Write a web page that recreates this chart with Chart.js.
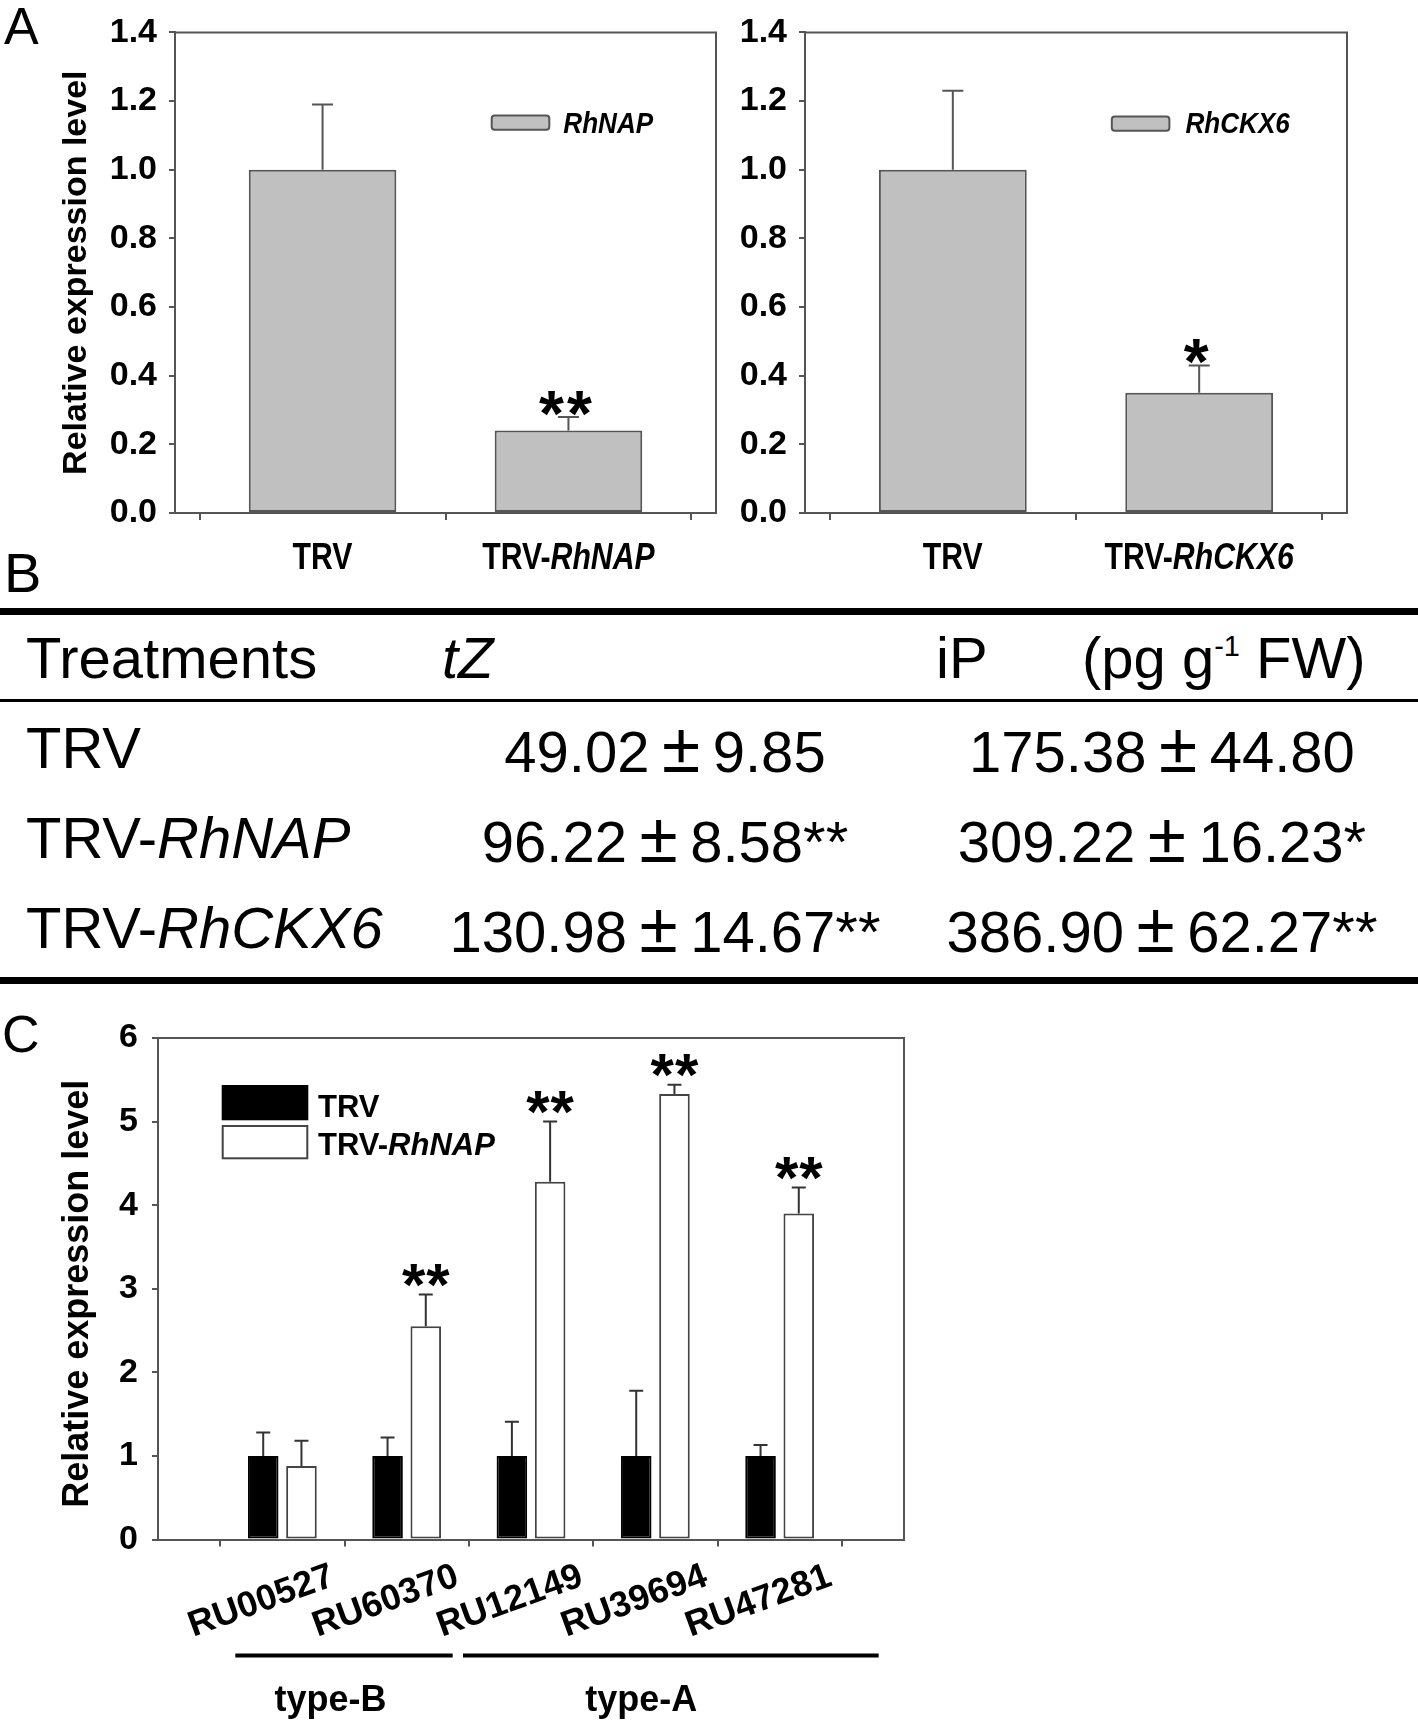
<!DOCTYPE html>
<html>
<head>
<meta charset="utf-8">
<script src="https://cdn.jsdelivr.net/npm/chart.js@4.4.1/dist/chart.umd.min.js"></script>
<style>
html, body { margin: 0; padding: 0; background: #fff; }
#page { position: relative; width: 1418px; height: 1722px; overflow: hidden; background: #fff;
        font-family: "Liberation Sans", Arial, Helvetica, sans-serif; color: #000; }
canvas { position: absolute; }
.t { position: absolute; font-size: 58px; line-height: 58px; white-space: nowrap; }
.letter { position: absolute; white-space: nowrap; }
.rule { position: absolute; left: 0; width: 1418px; background: #000; }
.pm { font-size: 1.2em; margin: 0 0.18em; }
sup { font-size: 0.5em; vertical-align: 0.75em; line-height: 0; }
</style>
</head>
<body>
<div id="page">
  <canvas id="chartA1"></canvas>
  <canvas id="chartA2"></canvas>
  <canvas id="chartC"></canvas>
</div>
<script>
// ---------------- DATA ----------------
// Panel A (left): RhNAP silencing
const aCategories = ['TRV', 'TRV-RhNAP'];
const aValues = [1.00, 0.24];
const aErrors = [0.19, 0.04];
const aStars = ['', '**'];
const aLegend = 'RhNAP';
// Panel A (right): RhCKX6 silencing
const a2Categories = ['TRV', 'TRV-RhCKX6'];
const a2Values = [1.00, 0.35];
const a2Errors = [0.23, 0.08];
const a2Stars = ['', '*'];
const a2Legend = 'RhCKX6';
const aYTicks = [0, 0.2, 0.4, 0.6, 0.8, 1.0, 1.2, 1.4];
const yTitle = 'Relative expression level';

// Panel B table
const panelLetters = ['A', 'B', 'C'];
const tableHead = ['Treatments', 'tZ', 'iP'];
const tableUnit = ['(pg g', '-1', ' FW)'];
const treatments = ['TRV', 'TRV-RhNAP', 'TRV-RhCKX6'];
const tzMean = [49.02, 96.22, 130.98];
const tzSD = [9.85, 8.58, 14.67];
const tzSig = ['', '**', '**'];
const ipMean = [175.38, 309.22, 386.90];
const ipSD = [44.80, 16.23, 62.27];
const ipSig = ['', '*', '**'];

// Panel C
const cCategories = ['RU00527', 'RU60370', 'RU12149', 'RU39694', 'RU47281'];
const cSeries = ['TRV', 'TRV-RhNAP'];
const cTRV = [1.00, 1.00, 1.00, 1.00, 1.00];
const cTRVErr = [0.28, 0.22, 0.41, 0.78, 0.13];
const cNAP = [0.88, 2.55, 4.28, 5.33, 3.90];
const cNAPErr = [0.30, 0.38, 0.72, 0.11, 0.31];
const cTRVStars = ['', '', '', '', ''];
const cNAPStars = ['', '**', '**', '**', '**'];
const cYTicks = [0, 1, 2, 3, 4, 5, 6];
const cGroupNames = ['type-B', 'type-A'];
const cGroupFirst = [0, 2];
const cGroupLast = [1, 4];

// ---------------- STYLE / LAYOUT ----------------
const FONT = '"Liberation Sans", Arial, Helvetica, sans-serif';
Chart.defaults.font.family = FONT;
Chart.defaults.color = '#000';

const STYLE = {
  chartA1: {
    axisColor: '#555', axisWidth: 2, errColor: '#555', errWidth: 2, capHalf: 10.5,
    starSize: 64, starGap: 17, starDx: -3, starSpacing: 3,
    xLabel: { size: 36, sx: 0.84, dy: 56 },
    legend: { dx: 316.7, dy: 83, w: 57.6, h: 14.3, r: 3, gap: 14, size: 30, sx: 0.87, textDy: 17.5 },
    title: { x: 86, size: 34, dy: 0 }
  },
  chartA2: {
    axisColor: '#555', axisWidth: 2, errColor: '#555', errWidth: 2, capHalf: 10.5,
    starSize: 64, starGap: 17, starDx: -3, starSpacing: 3,
    xLabel: { size: 36, sx: 0.84, dy: 56 },
    legend: { dx: 306.8, dy: 84, w: 57.6, h: 14.3, r: 3, gap: 16, size: 30, sx: 0.87, textDy: 17 }
  },
  chartC: {
    axisColor: '#555', axisWidth: 2, errColor: '#333', errWidth: 2, capHalf: 7,
    starSize: 60, starGap: 23, starDx: 0, starSpacing: 1,
    rotLabel: { size: 36, angle: 20, dx: -21, dy: 62 },
    legendC: { dx: 64.7, dy: [48, 88], w: 84.6, h: [33.3, 32.3], textDx: 160, textDy: [79, 117], size: 31 },
    groups: { lineDy: 116, lineW: 4, pads: [[47, 46], [68, 99]], textDy: 171, textDx: -14, size: 36 },
    title: { x: 88, size: 36, dy: 5 }
  }
};

function padFor(rect, area, yW, xH) {
  return { left: area.l - rect.x - yW, top: area.t - rect.y,
           right: rect.x + rect.w - area.r, bottom: rect.y + rect.h - area.b - xH };
}
function placeCanvas(id, rect) {
  const c = document.getElementById(id);
  c.width = rect.w; c.height = rect.h;
  c.style.left = rect.x + 'px'; c.style.top = rect.y + 'px';
  c.style.width = rect.w + 'px'; c.style.height = rect.h + 'px';
  return c;
}
function richParts(label, allItalic) {
  if (allItalic) return [{ t: label, i: true }];
  const k = label.indexOf('-');
  if (k < 0) return [{ t: label, i: false }];
  return [{ t: label.slice(0, k + 1), i: false }, { t: label.slice(k + 1), i: true }];
}
function drawRich(ctx, parts, x, y, size, sx, align) {
  ctx.save();
  ctx.translate(x, y); ctx.scale(sx, 1);
  const fonts = parts.map(p => (p.i ? 'italic ' : '') + 'bold ' + size + 'px ' + FONT);
  const ws = parts.map((p, k) => { ctx.font = fonts[k]; return ctx.measureText(p.t).width; });
  const total = ws.reduce((a, b) => a + b, 0);
  let cx = align === 'center' ? -total / 2 : 0;
  ctx.textAlign = 'left'; ctx.textBaseline = 'alphabetic'; ctx.fillStyle = '#000';
  parts.forEach((p, k) => { ctx.font = fonts[k]; ctx.fillText(p.t, cx, 0); cx += ws[k]; });
  ctx.restore();
}
function drawStars(ctx, s, cx, baseY, size, spacing) {
  // each star drawn separately so the gap between them can be set
  ctx.font = 'bold ' + size + 'px ' + FONT;
  ctx.textAlign = 'center'; ctx.textBaseline = 'alphabetic'; ctx.fillStyle = '#000';
  const w = ctx.measureText('*').width + spacing;
  const n = s.length;
  for (let k = 0; k < n; k++) {
    ctx.fillText('*', cx + (k - (n - 1) / 2) * w, baseY);
  }
}

const decorPlugin = {
  id: 'decor',
  afterDatasetsDraw(chart) {
    const st = STYLE[chart.canvas.id]; if (!st) return;
    const ctx = chart.ctx, ca = chart.chartArea, ys = chart.scales.y;
    ctx.save();
    ctx.strokeStyle = st.axisColor; ctx.lineWidth = st.axisWidth;
    ctx.beginPath();
    ctx.moveTo(ca.left - 1, ca.top); ctx.lineTo(ca.right, ca.top); ctx.lineTo(ca.right, ca.bottom + 1);
    ctx.stroke();
    chart.data.datasets.forEach((ds, di) => {
      const meta = chart.getDatasetMeta(di);
      meta.data.forEach((bar, i) => {
        const v = ds.data[i].y, e = ds.errors[i];
        const x = bar.x, yBar = ys.getPixelForValue(v), yTop = ys.getPixelForValue(v + e);
        ctx.strokeStyle = st.errColor; ctx.lineWidth = st.errWidth;
        ctx.beginPath();
        ctx.moveTo(x, yBar); ctx.lineTo(x, yTop);
        ctx.moveTo(x - st.capHalf, yTop); ctx.lineTo(x + st.capHalf, yTop);
        ctx.stroke();
        const s = ds.stars[i];
        if (s) drawStars(ctx, s, x + st.starDx, yTop - st.starGap + st.starSize * 0.56, st.starSize, st.starSpacing);
      });
    });
    ctx.restore();
  },
  afterDraw(chart) {
    const st = STYLE[chart.canvas.id]; if (!st) return;
    const ctx = chart.ctx, ca = chart.chartArea, xs = chart.scales.x;
    const cats = chart.data.labels;
    ctx.save();
    if (st.xLabel) {
      cats.forEach((c, i) => drawRich(ctx, richParts(c, false), xs.getPixelForValue(i),
        ca.bottom + st.xLabel.dy, st.xLabel.size, st.xLabel.sx, 'center'));
    }
    if (st.rotLabel) {
      const R = st.rotLabel;
      cats.forEach((c, i) => {
        ctx.save();
        ctx.translate(xs.getPixelForValue(i) + R.dx, ca.bottom + R.dy);
        ctx.rotate(-R.angle * Math.PI / 180);
        ctx.font = 'bold ' + R.size + 'px ' + FONT;
        ctx.fillStyle = '#000'; ctx.textAlign = 'center'; ctx.textBaseline = 'middle';
        ctx.fillText(c, 0, 0);
        ctx.restore();
      });
    }
    if (st.legend) {
      const ds = chart.data.datasets[0], L = st.legend;
      const bx = ca.left + L.dx, by = ca.top + L.dy;
      ctx.beginPath(); ctx.roundRect(bx, by, L.w, L.h, L.r);
      ctx.fillStyle = ds.backgroundColor; ctx.fill();
      ctx.lineWidth = 2; ctx.strokeStyle = ds.borderColor; ctx.stroke();
      drawRich(ctx, richParts(ds.label, true), bx + L.w + L.gap, by + L.textDy, L.size, L.sx, 'left');
    }
    if (st.legendC) {
      const L = st.legendC;
      chart.data.datasets.forEach((ds, k) => {
        const bx = ca.left + L.dx, by = ca.top + L.dy[k];
        ctx.fillStyle = ds.backgroundColor; ctx.fillRect(bx, by, L.w, L.h[k]);
        ctx.lineWidth = 2; ctx.strokeStyle = ds.borderColor; ctx.strokeRect(bx, by, L.w, L.h[k]);
        drawRich(ctx, richParts(ds.label, false), ca.left + L.textDx, ca.top + L.textDy[k], L.size, 1, 'left');
      });
    }
    if (st.groups) {
      const G = st.groups;
      cGroupNames.forEach((g, k) => {
        const x0 = xs.getPixelForValue(cGroupFirst[k]), x1 = xs.getPixelForValue(cGroupLast[k]);
        ctx.strokeStyle = '#000'; ctx.lineWidth = G.lineW;
        ctx.beginPath();
        ctx.moveTo(x0 - G.pads[k][0], ca.bottom + G.lineDy); ctx.lineTo(x1 + G.pads[k][1], ca.bottom + G.lineDy);
        ctx.stroke();
        ctx.font = 'bold ' + G.size + 'px ' + FONT; ctx.fillStyle = '#000';
        ctx.textAlign = 'center'; ctx.textBaseline = 'alphabetic';
        ctx.fillText(g, (x0 + x1) / 2 + G.textDx, ca.bottom + G.textDy);
      });
    }
    if (st.title) {
      ctx.save();
      ctx.translate(st.title.x, (ca.top + ca.bottom) / 2 + st.title.dy);
      ctx.rotate(-Math.PI / 2);
      ctx.font = 'bold ' + st.title.size + 'px ' + FONT;
      ctx.fillStyle = '#000'; ctx.textAlign = 'center'; ctx.textBaseline = 'alphabetic';
      ctx.fillText(yTitle, 0, 0);
      ctx.restore();
    }
    ctx.restore();
  }
};

function axisCommon(color) {
  return {
    grid: { drawOnChartArea: false, drawTicks: true, tickLength: 6, color: color, lineWidth: 2 },
    border: { display: true, color: color, width: 2 }
  };
}

function panelA(id, rect, area, yW, cats, vals, errs, stars, legendLabel) {
  const canvas = placeCanvas(id, rect);
  const ax = axisCommon(STYLE[id].axisColor);
  return new Chart(canvas, {
    type: 'bar',
    data: {
      labels: cats,
      datasets: [{
        label: legendLabel,
        data: cats.map((c, i) => ({ x: i, y: vals[i] })),
        errors: errs, stars: stars,
        backgroundColor: '#c0c0c0', borderColor: '#555', borderWidth: 2, borderSkipped: false,
        categoryPercentage: 1, barPercentage: 0.6
      }]
    },
    options: {
      responsive: false, animation: false, devicePixelRatio: 1,
      layout: { padding: padFor(rect, area, yW, 40) },
      plugins: { legend: { display: false }, tooltip: { enabled: false } },
      scales: {
        x: {
          type: 'linear', min: -0.6, max: cats.length - 1 + 0.6, offset: false,
          afterBuildTicks: s => { s.ticks = cats.map((c, i) => ({ value: i })); },
          afterFit: s => { s.height = 40; },
          grid: Object.assign({}, ax.grid, { tickLength: 7 }), border: ax.border,
          ticks: { display: false }
        },
        y: {
          min: 0, max: 1.4,
          afterBuildTicks: s => { s.ticks = aYTicks.map(v => ({ value: v })); },
          afterFit: s => { s.width = yW; },
          grid: ax.grid, border: ax.border,
          ticks: { color: '#000', padding: 12, font: { family: FONT, size: 34, weight: 'bold' },
                   callback: v => Number(v).toFixed(1) }
        }
      }
    },
    plugins: [decorPlugin]
  });
}

panelA('chartA1', { x: 0, y: 0, w: 730, h: 600 }, { l: 175, t: 27, r: 716, b: 513 }, 100,
       aCategories, aValues, aErrors, aStars, aLegend);
panelA('chartA2', { x: 720, y: 0, w: 698, h: 600 }, { l: 805, t: 27, r: 1347, b: 513 }, 85,
       a2Categories, a2Values, a2Errors, a2Stars, a2Legend);

(function panelC() {
  const id = 'chartC';
  const rect = { x: 0, y: 1000, w: 960, h: 722 };
  const area = { l: 158, t: 1038, r: 904, b: 1539.5 };
  const yW = 100;
  const canvas = placeCanvas(id, rect);
  const ax = axisCommon(STYLE[id].axisColor);
  new Chart(canvas, {
    type: 'bar',
    data: {
      labels: cCategories,
      datasets: [
        { label: cSeries[0], data: cCategories.map((c, i) => ({ x: i, y: cTRV[i] })),
          errors: cTRVErr, stars: cTRVStars,
          backgroundColor: '#000', borderColor: '#000', borderWidth: 2, borderSkipped: false,
          categoryPercentage: 0.615, barPercentage: 0.8 },
        { label: cSeries[1], data: cCategories.map((c, i) => ({ x: i, y: cNAP[i] })),
          errors: cNAPErr, stars: cNAPStars,
          backgroundColor: '#fff', borderColor: '#444', borderWidth: 2, borderSkipped: false,
          categoryPercentage: 0.615, barPercentage: 0.8 }
      ]
    },
    options: {
      responsive: false, animation: false, devicePixelRatio: 1,
      layout: { padding: padFor(rect, area, yW, 40) },
      plugins: { legend: { display: false }, tooltip: { enabled: false } },
      scales: {
        x: {
          type: 'linear', min: -1, max: cCategories.length, offset: false,
          afterBuildTicks: s => { s.ticks = cCategories.map((c, i) => ({ value: i })); },
          afterFit: s => { s.height = 40; },
          grid: Object.assign({}, ax.grid, { tickLength: 7 }), border: ax.border,
          ticks: { display: false }
        },
        y: {
          min: 0, max: 6,
          afterBuildTicks: s => { s.ticks = cYTicks.map(v => ({ value: v })); },
          afterFit: s => { s.width = yW; },
          grid: ax.grid, border: ax.border,
          ticks: { color: '#000', padding: 14, font: { family: FONT, size: 34, weight: 'bold' },
                   callback: v => String(v) }
        }
      }
    },
    plugins: [decorPlugin]
  });
})();

// ---------------- Panel letters + table B (HTML text) ----------------
(function buildTable() {
  const page = document.getElementById('page');
  function add(cls, html, css) {
    const d = document.createElement('div');
    d.className = cls; d.innerHTML = html;
    Object.assign(d.style, css);
    page.appendChild(d);
    return d;
  }
  function italicAfterDash(s) {
    const k = s.indexOf('-');
    return k < 0 ? s : s.slice(0, k + 1) + '<i>' + s.slice(k + 1) + '</i>';
  }
  add('letter', panelLetters[0], { left: '4px', top: '0px', fontSize: '52px', lineHeight: '52px' });
  add('letter', panelLetters[1], { left: '4px', top: '545px', fontSize: '56px', lineHeight: '56px' });
  add('letter', panelLetters[2], { left: '2px', top: '1008px', fontSize: '52px', lineHeight: '52px' });

  add('rule', '', { top: '608px', height: '7px' });
  add('rule', '', { top: '699px', height: '3px' });
  add('rule', '', { top: '977px', height: '7px' });

  const headTop = 629;
  add('t', tableHead[0], { left: '26px', top: headTop + 'px' });
  add('t', '<i>' + tableHead[1] + '</i>', { left: '442px', top: headTop + 'px' });
  add('t', tableHead[2], { left: '936px', top: headTop + 'px' });
  add('t', tableUnit[0] + '<sup>' + tableUnit[1] + '</sup>' + tableUnit[2], { left: '1082px', top: headTop + 'px' });

  const rowTops = [719, 809, 899];
  treatments.forEach((tr, r) => {
    add('t', italicAfterDash(tr), { left: '26px', top: rowTops[r] + 'px' });
    add('t', tzMean[r].toFixed(2) + '<span class="pm">±</span>' + tzSD[r].toFixed(2) + tzSig[r],
        { left: '365px', width: '600px', textAlign: 'center', top: rowTops[r] + 'px' });
    add('t', ipMean[r].toFixed(2) + '<span class="pm">±</span>' + ipSD[r].toFixed(2) + ipSig[r],
        { left: '862px', width: '600px', textAlign: 'center', top: rowTops[r] + 'px' });
  });
})();
</script>
</body>
</html>
